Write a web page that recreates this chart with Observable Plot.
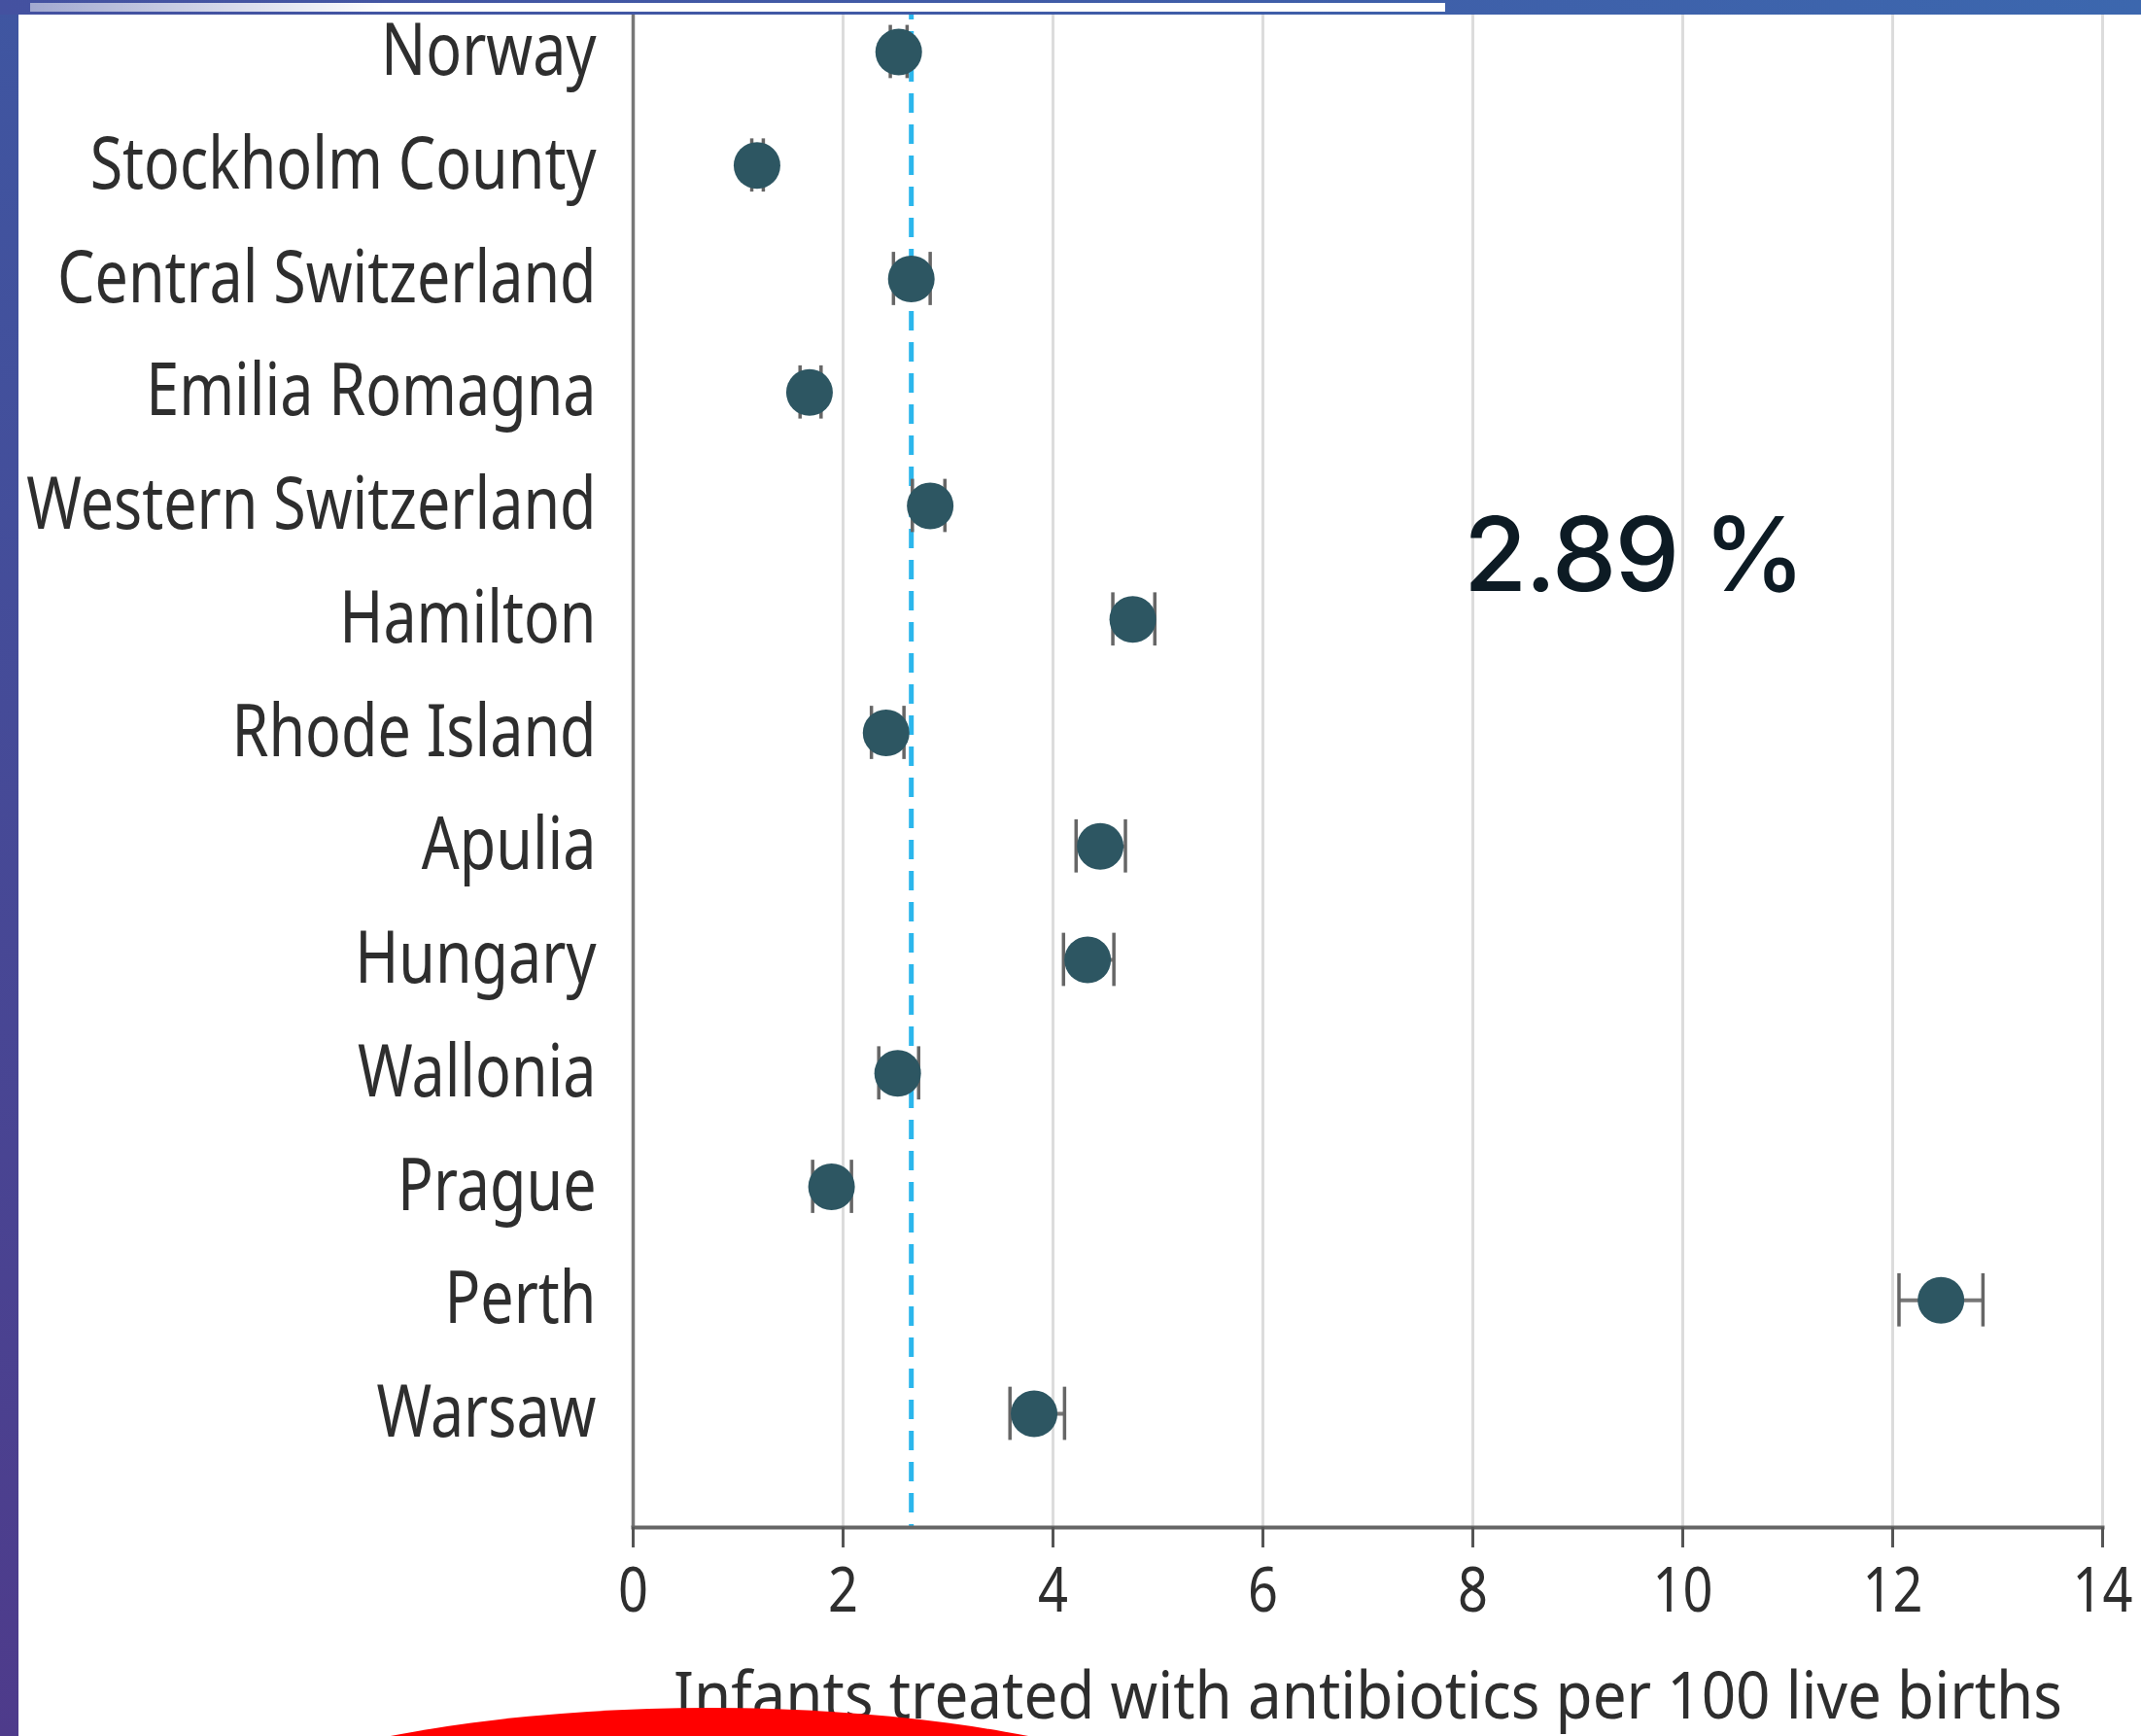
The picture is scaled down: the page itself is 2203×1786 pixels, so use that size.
<!DOCTYPE html>
<html>
<head>
<meta charset="utf-8">
<script src="https://cdn.jsdelivr.net/npm/d3@7"></script>
<script src="https://cdn.jsdelivr.net/npm/@observablehq/plot@0.6"></script>
<style>
  html, body { margin: 0; padding: 0; background: #fff; }
  body { width: 2203px; height: 1786px; position: relative; overflow: hidden; font-family: "Noto Sans", sans-serif; }
  #chart { position: absolute; left: 0; top: 0; }
  #left { position: absolute; left: 0; top: 0; width: 19px; height: 1786px; background: linear-gradient(#3f56a1, #4e3b8b); }
  #top { position: absolute; left: 0; top: 0; width: 2203px; height: 15px; background: linear-gradient(90deg, #4451a0, #3c67ae); }
  #topwhite { position: absolute; left: 31px; top: 3px; width: 1456px; height: 9px; background: linear-gradient(90deg, rgba(255,255,255,0.5), #fff 25%, #fff); }
  #overlay { position: absolute; left: 0; top: 0; }
</style>
</head>
<body>
<div id="chart"></div>
<div id="left"></div>
<div id="top"></div>
<div id="topwhite"></div>
<svg id="overlay" width="2203" height="1786"></svg>
<script>
// ---- data ----
const regions = ["Norway", "Stockholm County", "Central Switzerland", "Emilia Romagna", "Western Switzerland", "Hamilton", "Rhode Island", "Apulia", "Hungary", "Wallonia", "Prague", "Perth", "Warsaw"];
const rates = [2.53, 1.18, 2.65, 1.68, 2.83, 4.76, 2.41, 4.45, 4.33, 2.52, 1.89, 12.46, 3.82];
const lower = [2.45, 1.13, 2.48, 1.59, 2.66, 4.57, 2.27, 4.22, 4.10, 2.34, 1.71, 12.06, 3.59];
const upper = [2.61, 1.24, 2.83, 1.79, 2.97, 4.97, 2.58, 4.69, 4.58, 2.72, 2.08, 12.86, 4.11];
const overallRate = [2.65];
const xTicks = [0, 2, 4, 6, 8, 10, 12, 14];
const xLabel = "Infants treated with antibiotics per 100 live births";
const annotation = "2.89 %";

const table = regions.map((r, i) => ({region: r, rate: rates[i], lo: lower[i], hi: upper[i]}));

const W = 2203, H = 1786;
const plot = Plot.plot({
  width: W,
  height: H,
  marginLeft: 651,
  marginRight: 40,
  marginTop: 0,
  marginBottom: 215,
  style: {background: "transparent", fontFamily: "'Noto Sans', sans-serif", color: "#2e2e2e"},
  x: {domain: [0, 14], ticks: xTicks},
  y: {type: "band", domain: regions, range: [-5.4, 1512.4], padding: 0, round: false},
  marks: [
    Plot.gridX(xTicks, {stroke: "#dcdcdc", strokeWidth: 3, strokeOpacity: 1}),
    Plot.ruleX(overallRate, {stroke: "#2bb6ec", strokeWidth: 5, strokeDasharray: "20,12"}),
    Plot.ruleX([0], {stroke: "#777", strokeWidth: 3.5}),
    Plot.frame({anchor: "bottom", stroke: "#666", strokeWidth: 4}),
    Plot.ruleY(table, {y: "region", x1: "lo", x2: "hi", stroke: "#777", strokeWidth: 4}),
    Plot.tickX(table, {x: "lo", y: "region", stroke: "#666", strokeWidth: 3.5, insetTop: 31, insetBottom: 31}),
    Plot.tickX(table, {x: "hi", y: "region", stroke: "#666", strokeWidth: 3.5, insetTop: 31, insetBottom: 31}),
    Plot.dot(table, {x: "rate", y: "region", r: 24, fill: "#2d5662", stroke: "none"}),
    Plot.axisY({tickSize: 0, tickPadding: 38, fontSize: 74, label: null, color: "#2e2e2e"}),
    Plot.axisX({ticks: xTicks, tickSize: 21, tickPadding: 20, fontSize: 64, label: null, stroke: "#555", strokeWidth: 3, color: "#2e2e2e"}),
    Plot.text([xLabel], {text: d => d, frameAnchor: "bottom", dy: 175, lineAnchor: "middle", fontSize: 68, fill: "#2e2e2e"})
  ]
});
document.getElementById("chart").appendChild(plot);

// condense the narrow typeface of the original
function condense(selector, sx) {
  plot.querySelectorAll(selector).forEach(t => {
    const tr = t.getAttribute("transform") || "";
    t.setAttribute("transform", tr + ` scale(${sx},1)`);
  });
}
const yTexts = [...plot.querySelectorAll('g[aria-label="y-axis tick label"] text')];
const stock = yTexts.find(t => t.textContent === "Stockholm County");
if (stock) {
  const w = stock.getComputedTextLength();
  condense('g[aria-label="y-axis tick label"] text', 521 / w);
}
const xTexts = [...plot.querySelectorAll('g[aria-label="x-axis tick label"] text')];
const ten = xTexts.find(t => t.textContent === "10");
if (ten) {
  const w = ten.getComputedTextLength();
  condense('g[aria-label="x-axis tick label"] text', 62 / w);
}
const titleText = [...plot.querySelectorAll('g[aria-label="text"] text')].find(t => t.textContent === xLabel);
if (titleText) {
  titleText.setAttribute("textLength", 1429);
  titleText.setAttribute("lengthAdjust", "spacingAndGlyphs");
}

// decorations overlay
const ov = d3.select("#overlay");
ov.append("text")
  .attr("x", 1506).attr("y", 608)
  .attr("font-family", "Inter, 'Noto Sans', sans-serif")
  .attr("font-size", 106)
  .attr("font-weight", 500)
  .attr("letter-spacing", -2)
  .attr("fill", "#0d1b24")
  .text(annotation);
ov.append("ellipse")
  .attr("cx", 730).attr("cy", 1962).attr("rx", 640).attr("ry", 205)
  .attr("fill", "#ff0000");
</script>
</body>
</html>
